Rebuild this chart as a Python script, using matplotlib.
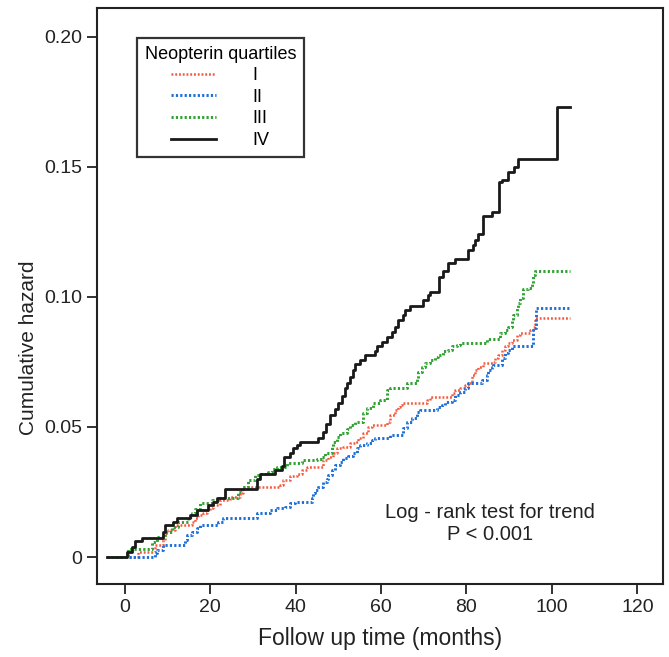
import numpy as np
import matplotlib
matplotlib.use("Agg")
import matplotlib.pyplot as plt

plt.rcParams['font.family'] = ['Liberation Sans', 'DejaVu Sans']

# Step curves: event times (months) and cumulative hazard
t_q1 = [-4.2, 3.1, 7.1, 8.9, 9.4, 10.1, 11.8, 15.7, 16.4, 17.2, 18.3, 19.3, 20.0, 20.7,
        22.3, 24.6, 27.0, 27.7, 36.3, 37.0, 38.7, 40.3, 41.5, 42.7, 46.4, 47.6, 48.8,
        49.7, 51.1, 52.7, 53.9, 54.6, 55.8, 56.9, 57.9, 61.4, 62.1, 63.3, 64.0, 64.4,
        64.9, 70.8, 71.5, 76.6, 77.3, 78.5, 79.7, 80.4, 81.3, 82.0, 82.7, 83.9, 86.2,
        86.7, 87.4, 88.3, 89.0, 89.7, 90.7, 91.8, 92.5, 94.9, 95.6, 96.1, 104.2]
h_q1 = [0, 0.002, 0.0046, 0.0065, 0.0092, 0.0104, 0.0123, 0.0135, 0.015, 0.016, 0.017,
        0.018, 0.019, 0.020, 0.022, 0.023, 0.0246, 0.027, 0.0277, 0.0296, 0.031, 0.032,
        0.0335, 0.0346, 0.0373, 0.0385, 0.040, 0.042, 0.0423, 0.0438, 0.0442, 0.0458,
        0.0477, 0.050, 0.0508, 0.052, 0.0546, 0.0565, 0.0577, 0.0585, 0.059, 0.0604,
        0.0615, 0.063, 0.064, 0.065, 0.066, 0.067, 0.070, 0.072, 0.073, 0.0746, 0.075,
        0.0765, 0.0777, 0.0796, 0.081, 0.0823, 0.0835, 0.0854, 0.086, 0.0873, 0.0885,
        0.092, 0.092]

t_q2 = [-4.2, 7.1, 7.5, 8.9, 14.1, 14.6, 15.7, 16.9, 17.6, 21.8, 23.0, 31.0, 34.0, 35.6,
        37.5, 38.7, 39.9, 43.8, 44.1, 44.5, 45.2, 46.4, 47.4, 47.6, 48.5, 49.2, 50.4,
        51.1, 52.3, 53.4, 54.4, 55.1, 56.7, 57.9, 58.6, 62.1, 65.2, 66.1, 67.3, 68.4,
        69.1, 73.1, 74.3, 75.0, 76.6, 77.3, 78.5, 79.7, 80.4, 83.6, 84.8, 85.0, 86.0,
        86.2, 88.3, 89.0, 89.7, 90.7, 95.6, 96.3, 104.2]
h_q2 = [0, 0.0015, 0.0027, 0.0046, 0.0065, 0.0085, 0.0096, 0.011, 0.0123, 0.0135, 0.015,
        0.017, 0.018, 0.0188, 0.0192, 0.0207, 0.021, 0.0227, 0.0246, 0.0258, 0.027,
        0.029, 0.030, 0.0315, 0.0335, 0.0354, 0.0366, 0.038, 0.039, 0.040, 0.042, 0.043,
        0.0438, 0.045, 0.0458, 0.047, 0.0496, 0.052, 0.0535, 0.0558, 0.0565, 0.0577,
        0.0585, 0.0596, 0.0604, 0.0623, 0.0635, 0.065, 0.0669, 0.068, 0.070, 0.072,
        0.073, 0.0738, 0.0765, 0.0785, 0.0796, 0.081, 0.088, 0.0958, 0.0958]

t_q3 = [-4.2, 0.7, 6.4, 7.5, 9.4, 11.1, 12.5, 14.8, 15.7, 16.4, 17.6, 20.4, 21.8, 26.5,
        27.4, 28.9, 30.5, 31.7, 33.5, 34.5, 35.6, 38.0, 41.5, 45.0, 46.2, 46.9, 48.5,
        48.8, 49.7, 50.4, 52.0, 52.7, 53.9, 55.8, 56.7, 58.1, 59.8, 61.4, 62.1, 66.1,
        68.4, 68.7, 69.6, 70.3, 71.5, 72.6, 73.4, 74.5, 75.7, 76.6, 77.8, 78.5, 84.8,
        87.8, 89.0, 89.7, 90.7, 90.9, 91.8, 92.1, 92.5, 93.2, 94.4, 95.4, 95.6, 96.1,
        104.2]
h_q3 = [0, 0.003, 0.0058, 0.0077, 0.0096, 0.0115, 0.0135, 0.0154, 0.017, 0.0185, 0.0207,
        0.022, 0.0227, 0.025, 0.027, 0.0296, 0.0315, 0.032, 0.0327, 0.034, 0.0346, 0.036,
        0.0373, 0.0377, 0.0385, 0.040, 0.0423, 0.0442, 0.046, 0.0477, 0.049, 0.0508,
        0.052, 0.0554, 0.0573, 0.059, 0.0605, 0.064, 0.065, 0.0669, 0.0688, 0.071, 0.073,
        0.0746, 0.0758, 0.077, 0.0777, 0.079, 0.0796, 0.081, 0.0815, 0.0823, 0.0838,
        0.086, 0.0873, 0.0885, 0.091, 0.093, 0.0958, 0.0977, 0.0995, 0.103, 0.1035,
        0.1054, 0.1085, 0.110, 0.110]

t_q4 = [-4.2, 0.5, 1.7, 2.4, 4.0, 8.9, 9.4, 11.3, 12.2, 15.3, 16.9, 19.5, 20.7, 21.6,
        23.5, 31.0, 31.7, 35.2, 36.8, 37.3, 38.7, 39.4, 40.3, 41.0, 45.2, 46.4, 47.1,
        48.1, 49.2, 49.9, 50.9, 51.6, 52.0, 52.7, 53.4, 53.9, 55.1, 56.2, 58.6, 59.1,
        60.2, 61.4, 62.6, 63.3, 64.0, 65.2, 65.6, 66.8, 69.8, 71.0, 71.5, 73.6, 74.5,
        75.7, 77.3, 80.4, 81.5, 82.0, 82.7, 83.9, 86.0, 87.6, 88.3, 89.8, 91.2, 92.1,
        101.2, 104.2]
h_q4 = [0, 0.002, 0.004, 0.006, 0.0073, 0.0096, 0.0123, 0.0135, 0.015, 0.016, 0.018,
        0.020, 0.021, 0.0227, 0.026, 0.030, 0.032, 0.0335, 0.035, 0.0385, 0.040, 0.042,
        0.043, 0.0442, 0.0458, 0.048, 0.051, 0.0546, 0.057, 0.059, 0.062, 0.065, 0.067,
        0.069, 0.072, 0.074, 0.0758, 0.0777, 0.079, 0.081, 0.0827, 0.0846, 0.0865,
        0.0885, 0.091, 0.093, 0.095, 0.0965, 0.0988, 0.1005, 0.102, 0.1077, 0.110, 0.113,
        0.1146, 0.118, 0.120, 0.122, 0.124, 0.131, 0.1327, 0.144, 0.145, 0.148, 0.150,
        0.153, 0.173, 0.173]

labels = ['I', 'II', 'III', 'IV']
colors = ['#f5583c', '#1e6fd8', '#2fa232', '#1a1a1a']

fig = plt.figure(figsize=(6.69, 6.57), dpi=100)
ax = fig.add_axes([0.145, 0.111, 0.846, 0.877])

dotted = (0, (0.75, 0.75))
ax.step(t_q1, h_q1, where='post', color=colors[0], lw=1.8, ls=dotted, label=labels[0])
ax.step(t_q2, h_q2, where='post', color=colors[1], lw=2.1, ls=dotted, label=labels[1])
ax.step(t_q3, h_q3, where='post', color=colors[2], lw=2.1, ls=dotted, label=labels[2])
ax.step(t_q4, h_q4, where='post', color=colors[3], lw=2.0, ls='-', label=labels[3])

ax.set_xlim(-6.5, 126)
ax.set_ylim(-0.0104, 0.211)
ax.set_xticks([0, 20, 40, 60, 80, 100, 120])
ax.set_yticks([0, 0.05, 0.10, 0.15, 0.20])
ax.set_yticklabels(['0', '0.05', '0.10', '0.15', '0.20'])
ax.tick_params(direction='out', length=7, width=1.3, labelsize=14, colors='#222222')
for s in ax.spines.values():
    s.set_linewidth(1.5)
    s.set_color('#222222')

ax.set_xlabel('Follow up time (months)', fontsize=16.5, labelpad=8, color='#222222')
ax.set_ylabel('Cumulative hazard', fontsize=15, color='#222222')
ax.yaxis.set_label_coords(-0.104, 0.41)

leg = ax.legend(title='Neopterin quartiles', loc='upper left',
                bbox_to_anchor=(0.054, 0.964), fontsize=13, title_fontsize=13,
                frameon=True, fancybox=False, edgecolor='black', handlelength=2.5,
                handletextpad=2.0, labelspacing=0.25, borderpad=0.45)
leg.get_frame().set_linewidth(1.6)

ax.text(85.5, 0.0129, 'Log - rank test for trend\nP < 0.001', ha='center', va='center',
        fontsize=14.5, linespacing=1.15, color='#222222')

fig.savefig('out.png', dpi=100)
